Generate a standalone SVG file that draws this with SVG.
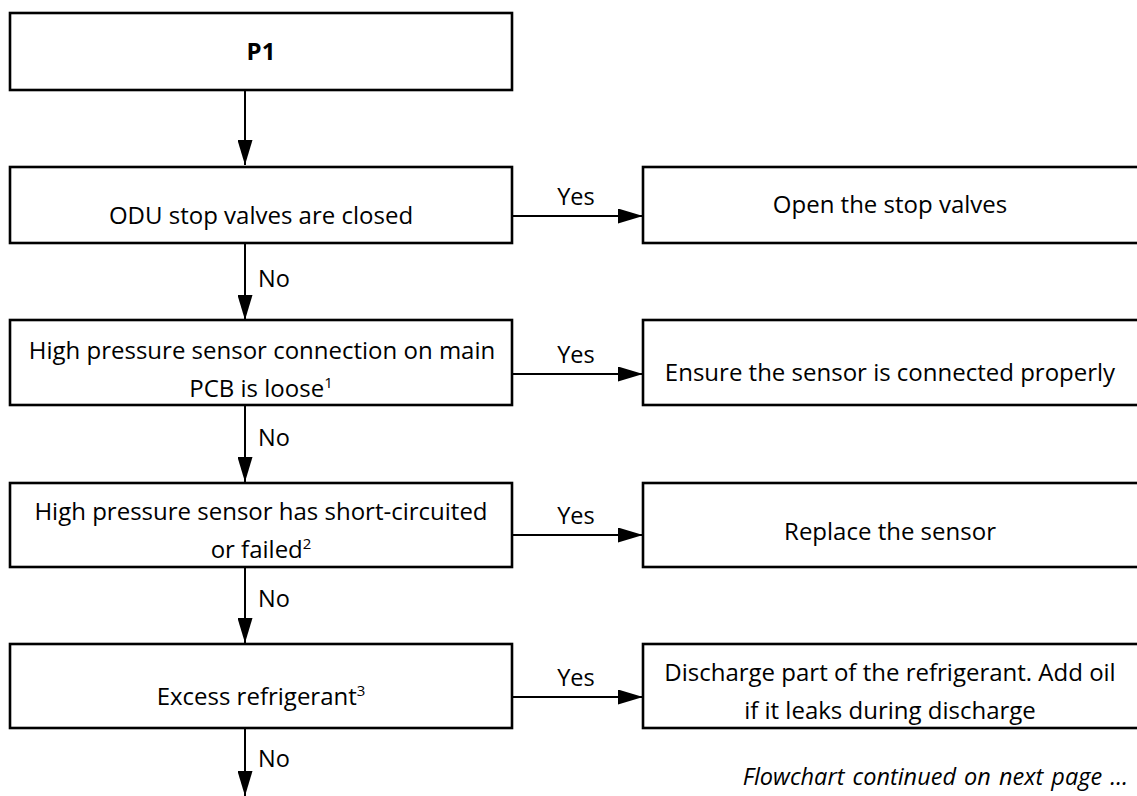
<svg xmlns="http://www.w3.org/2000/svg" width="1137" height="796" viewBox="0 0 1137 796">
<defs>
<style>
.box{fill:#fff;stroke:#000;stroke-width:2.6}
.t{font-family:"Open Sans","Liberation Sans",sans-serif;font-size:24px;fill:#000;text-anchor:middle}
.lbl{font-family:"Open Sans","Liberation Sans",sans-serif;font-size:23.5px;fill:#000}
.sup{font-size:15px}
.conn{fill:none;stroke:#000;stroke-width:2}
</style>
<marker id="ah" viewBox="0 0 25 15" refX="25" refY="7.5" markerWidth="25" markerHeight="15" markerUnits="userSpaceOnUse" orient="auto">
<path d="M0,0 L25,7.5 L0,15 Z" fill="#000"/>
</marker>
</defs>
<rect width="1137" height="796" fill="#fff"/>

<g id="connectors">
<line class="conn" x1="245" y1="90" x2="245" y2="165" marker-end="url(#ah)"/>
<line class="conn" x1="512" y1="216" x2="643" y2="216" marker-end="url(#ah)"/>
<text class="lbl" x="576" y="205" text-anchor="middle">Yes</text>
<line class="conn" x1="245" y1="243" x2="245" y2="320" marker-end="url(#ah)"/>
<text class="lbl" x="258" y="287">No</text>
<line class="conn" x1="512" y1="374" x2="643" y2="374" marker-end="url(#ah)"/>
<text class="lbl" x="576" y="363" text-anchor="middle">Yes</text>
<line class="conn" x1="245" y1="405" x2="245" y2="482" marker-end="url(#ah)"/>
<text class="lbl" x="258" y="446">No</text>
<line class="conn" x1="512" y1="535" x2="643" y2="535" marker-end="url(#ah)"/>
<text class="lbl" x="576" y="524" text-anchor="middle">Yes</text>
<line class="conn" x1="245" y1="567" x2="245" y2="643" marker-end="url(#ah)"/>
<text class="lbl" x="258" y="607">No</text>
<line class="conn" x1="512" y1="697" x2="643" y2="697" marker-end="url(#ah)"/>
<text class="lbl" x="576" y="686" text-anchor="middle">Yes</text>
<line class="conn" x1="245" y1="728" x2="245" y2="796" marker-end="url(#ah)"/>
<text class="lbl" x="258" y="767">No</text>
</g>

<g id="p1">
<rect class="box" x="10" y="13" width="502" height="77"/>
<text class="t" x="261" y="60" font-weight="bold">P1</text>
</g>

<g id="odu-valves">
<rect class="box" x="10" y="167" width="502" height="76"/>
<text class="t" x="261" y="224">ODU stop valves are closed</text>
</g>

<g id="open-valves">
<rect class="box" x="643" y="167" width="500" height="76"/>
<text class="t" x="890" y="213">Open the stop valves</text>
</g>

<g id="hp-connection">
<rect class="box" x="10" y="320" width="502" height="85"/>
<text class="t" x="262" y="359">High pressure sensor connection on main</text>
<text class="t" x="261" y="397">PCB is loose<tspan class="sup" dy="-9">1</tspan></text>
</g>

<g id="ensure-connected">
<rect class="box" x="643" y="320" width="500" height="85"/>
<text class="t" x="890" y="381">Ensure the sensor is connected properly</text>
</g>

<g id="hp-failed">
<rect class="box" x="10" y="483" width="502" height="84"/>
<text class="t" x="261" y="520">High pressure sensor has short-circuited</text>
<text class="t" x="261" y="558">or failed<tspan class="sup" dy="-9">2</tspan></text>
</g>

<g id="replace-sensor">
<rect class="box" x="643" y="483" width="500" height="84"/>
<text class="t" x="890" y="540">Replace the sensor</text>
</g>

<g id="excess-refrigerant">
<rect class="box" x="10" y="644" width="502" height="84"/>
<text class="t" x="261" y="705">Excess refrigerant<tspan class="sup" dy="-9">3</tspan></text>
</g>

<g id="discharge">
<rect class="box" x="643" y="644" width="500" height="84"/>
<text class="t" x="890" y="681">Discharge part of the refrigerant. Add oil</text>
<text class="t" x="890" y="719">if it leaks during discharge</text>
</g>

<text class="lbl" x="1128" y="785" text-anchor="end" font-style="italic" font-size="22" word-spacing="2">Flowchart continued on next page …</text>
</svg>
